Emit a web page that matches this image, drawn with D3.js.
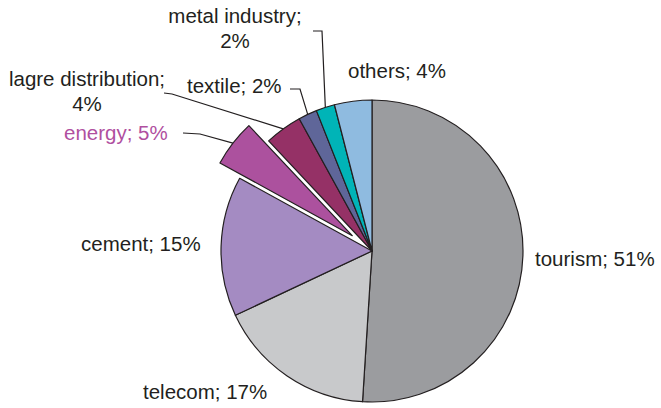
<!DOCTYPE html>
<html>
<head>
<meta charset="utf-8">
<script src="https://cdn.jsdelivr.net/npm/d3@7/dist/d3.min.js"></script>
<style>
  html, body { margin: 0; padding: 0; background: #fff; }
  svg { display: block; }
  text { font-family: "Liberation Sans", Arial, Helvetica, sans-serif; }
</style>
</head>
<body>
<svg id="chart" width="661" height="408"></svg>
<script>
// Sector shares (%), clockwise from 12 o'clock
const sectors = ["tourism", "telecom", "cement", "energy", "lagre distribution", "textile", "metal industry", "others"];
const shares  = [51, 17, 15, 5, 4, 2, 2, 4];
const colors  = ["#9b9c9f", "#c8c9cb", "#a48bc2", "#ac519e", "#953166", "#5f6699", "#00b4b7", "#8fbbe0"];
const exploded = ["energy"];

// Label placement: anchor point, text anchor, lines, and optional leader elbow
const labelLayout = {
  "tourism":            { x: 535, y: 266, anchor: "start",  lines: ["tourism; 51%"] },
  "telecom":            { x: 143, y: 399, anchor: "start",  lines: ["telecom; 17%"] },
  "cement":             { x: 81,  y: 251, anchor: "start",  lines: ["cement; 15%"] },
  "energy":             { x: 64,  y: 140, anchor: "start",  lines: ["energy; 5%"], color: "#b04f9f",
                          leader: [[183, 133], [200, 134]] },
  "lagre distribution": { x: 87,  y: 86,  anchor: "middle", lines: ["lagre distribution;", "4%"],
                          leader: [[164, 93], [172, 94]] },
  "textile":            { x: 187, y: 93,  anchor: "start",  lines: ["textile; 2%"],
                          leader: [[290, 89], [300, 89]] },
  "metal industry":     { x: 235, y: 23,  anchor: "middle", lines: ["metal industry;", "2%"],
                          leader: [[313, 31], [322, 31]] },
  "others":             { x: 348, y: 78,  anchor: "start",  lines: ["others; 4%"] }
};

const cx = 372, cy = 251, radius = 151, explodeOffset = 25;
const lineHeight = 25;

const svg = d3.select("#chart");
const g = svg.append("g").attr("transform", `translate(${cx},${cy})`);

const data = sectors.map((name, i) => ({ name, value: shares[i], color: colors[i] }));

const pie = d3.pie().sort(null).value(d => d.value).startAngle(0).endAngle(2 * Math.PI);
const arcs = pie(data);
const arc = d3.arc().innerRadius(0).outerRadius(radius);

function offsetFor(d) {
  if (!exploded.includes(d.data.name)) return [0, 0];
  const a = (d.startAngle + d.endAngle) / 2;
  return [Math.sin(a) * explodeOffset, -Math.cos(a) * explodeOffset];
}

g.selectAll("path.slice")
  .data(arcs)
  .join("path")
  .attr("class", "slice")
  .attr("d", arc)
  .attr("transform", d => { const [dx, dy] = offsetFor(d); return `translate(${dx},${dy})`; })
  .attr("fill", d => d.data.color)
  .attr("stroke", "#231f20")
  .attr("stroke-width", 1.2)
  .attr("stroke-linejoin", "round");

// Leader lines: from label elbow to the slice's outer edge midpoint
arcs.forEach(d => {
  const lay = labelLayout[d.data.name];
  if (!lay.leader) return;
  const a = (d.startAngle + d.endAngle) / 2;
  const [dx, dy] = offsetFor(d);
  const end = [cx + dx + Math.sin(a) * radius, cy + dy - Math.cos(a) * radius];
  const pts = lay.leader.concat([end]);
  svg.append("path")
    .attr("d", d3.line()(pts))
    .attr("fill", "none")
    .attr("stroke", "#231f20")
    .attr("stroke-width", 1.2);
});

// Labels
arcs.forEach(d => {
  const lay = labelLayout[d.data.name];
  const t = svg.append("text")
    .attr("x", lay.x)
    .attr("y", lay.y)
    .attr("text-anchor", lay.anchor)
    .attr("font-size", "20.5px")
    .attr("fill", lay.color || "#231f20");
  lay.lines.forEach((line, i) => {
    t.append("tspan")
      .attr("x", lay.x)
      .attr("dy", i === 0 ? 0 : lineHeight)
      .text(line);
  });
});
</script>
</body>
</html>
